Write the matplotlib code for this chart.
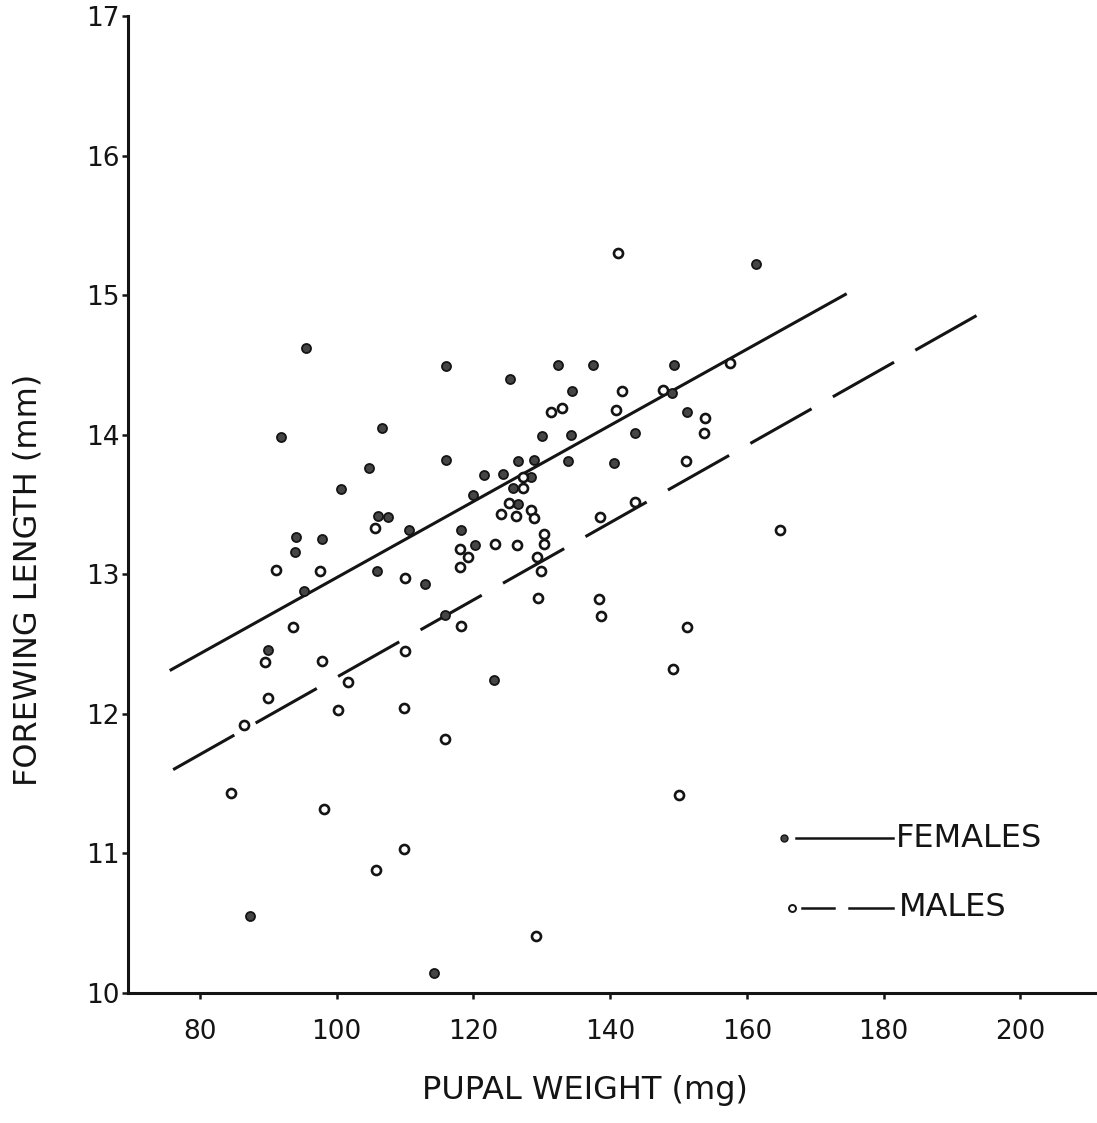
import matplotlib
matplotlib.use('Agg')
import matplotlib.pyplot as plt

# females (filled dots)
female_weight = [95.5, 91.8, 106.7, 104.8, 100.7, 106.0, 107.5, 110.6, 94.0, 93.9,
                 97.9, 116.0, 125.3, 132.4, 137.5, 149.4, 130.1, 116.0, 126.5, 128.9,
                 133.9, 121.5, 124.3, 128.5, 125.8, 120.0, 126.6, 118.2, 120.3, 134.4,
                 149.1, 151.2, 134.3, 143.6, 140.6, 161.4, 95.3, 105.9, 89.9, 113.0,
                 115.9, 123.0, 87.4, 114.2]
female_length = [14.62, 13.98, 14.05, 13.76, 13.61, 13.42, 13.41, 13.32, 13.27, 13.16,
                 13.25, 14.49, 14.40, 14.50, 14.50, 14.50, 13.99, 13.82, 13.81, 13.82,
                 13.81, 13.71, 13.72, 13.70, 13.62, 13.57, 13.50, 13.32, 13.21, 14.31,
                 14.30, 14.16, 14.00, 14.01, 13.80, 15.22, 12.88, 13.02, 12.46, 12.93,
                 12.71, 12.24, 10.55, 10.14]

# males (open circles)
male_weight = [105.6, 131.4, 133.0, 127.2, 127.3, 125.2, 128.4, 128.8, 124.0, 126.3,
               130.3, 130.3, 123.2, 126.4, 118.1, 119.2, 129.3, 141.2, 157.5, 141.8,
               147.8, 140.8, 153.9, 153.8, 151.1, 143.6, 138.5, 164.9, 91.2, 97.6,
               110.0, 93.6, 89.5, 97.8, 110.0, 101.6, 89.9, 100.2, 109.9, 86.4,
               84.5, 98.1, 118.1, 129.9, 129.5, 138.4, 138.6, 118.2, 151.3, 149.2,
               115.9, 150.1, 109.8, 105.8, 129.1]
male_length = [13.33, 14.16, 14.19, 13.70, 13.62, 13.51, 13.46, 13.40, 13.43, 13.42,
               13.29, 13.22, 13.22, 13.21, 13.18, 13.12, 13.12, 15.30, 14.51, 14.31,
               14.32, 14.18, 14.12, 14.01, 13.81, 13.52, 13.41, 13.32, 13.03, 13.02,
               12.97, 12.62, 12.37, 12.38, 12.45, 12.23, 12.11, 12.03, 12.04, 11.92,
               11.43, 11.32, 13.05, 13.02, 12.83, 12.82, 12.70, 12.63, 12.62, 12.32,
               11.82, 11.42, 11.03, 10.88, 10.41]

# regression lines (end points)
female_line_x = [75.6, 174.6]
female_line_y = [12.31, 15.01]
male_line_x = [76.1, 194.2]
male_line_y = [11.60, 14.87]

x_ticks = [80, 100, 120, 140, 160, 180, 200]
y_ticks = [10, 11, 12, 13, 14, 15, 16, 17]

ink = '#141414'

fig = plt.figure(figsize=(10.97, 11.23), dpi=100)
ax = fig.add_axes([0.1167, 0.1158, 0.882, 0.870])

# lines
ax.plot(female_line_x, female_line_y, color=ink, linewidth=2.2, solid_capstyle='butt')
ax.plot(male_line_x, male_line_y, color=ink, linewidth=2.2,
        dashes=(23, 8), dash_capstyle='butt')

# points
ax.plot(female_weight, female_length, 'o', markersize=6.5,
        markerfacecolor='#454545', markeredgecolor=ink, markeredgewidth=1.3)
ax.plot(male_weight, male_length, 'o', markersize=6.5,
        markerfacecolor='white', markeredgecolor=ink, markeredgewidth=1.9)

ax.set_xlim(69.5, 211)
ax.set_ylim(10, 17)
ax.set_xticks(x_ticks)
ax.set_yticks(y_ticks)

ax.spines['top'].set_visible(False)
ax.spines['right'].set_visible(False)
ax.spines['left'].set_linewidth(2.2)
ax.spines['bottom'].set_linewidth(2.2)
ax.spines['left'].set_color(ink)
ax.spines['bottom'].set_color(ink)

ax.tick_params(axis='y', direction='out', length=4, width=1.8, pad=2,
               labelsize=19, colors=ink)
ax.tick_params(axis='x', direction='out', length=4, width=1.8, pad=15,
               labelsize=19, colors=ink)

ax.set_xlabel('PUPAL WEIGHT (mg)', fontsize=23, color=ink)
ax.set_ylabel('FOREWING LENGTH (mm)', fontsize=23, color=ink)
ax.xaxis.set_label_coords(0.472, -0.084)
ax.yaxis.set_label_coords(-0.087, 0.423)

# legend drawn by hand
ax.plot([0.6782], [0.1586], 'o', markersize=5, markerfacecolor='#454545',
        markeredgecolor=ink, transform=ax.transAxes, clip_on=False)
ax.plot([0.6906, 0.7907], [0.1586, 0.1586], color=ink, linewidth=1.8,
        transform=ax.transAxes, clip_on=False)
ax.text(0.7938, 0.1586, 'FEMALES', fontsize=23, color=ink, va='center', ha='left',
        transform=ax.transAxes)

ax.plot([0.6865], [0.087], 'o', markersize=5, markerfacecolor='white',
        markeredgecolor=ink, markeredgewidth=1.4, transform=ax.transAxes, clip_on=False)
ax.plot([0.6969, 0.7300], [0.087, 0.087], color=ink, linewidth=1.8,
        transform=ax.transAxes, clip_on=False)
ax.plot([0.7456, 0.7903], [0.087, 0.087], color=ink, linewidth=1.8,
        transform=ax.transAxes, clip_on=False)
ax.text(0.7969, 0.087, 'MALES', fontsize=23, color=ink, va='center', ha='left',
        transform=ax.transAxes)

fig.savefig('out.png', dpi=100)
